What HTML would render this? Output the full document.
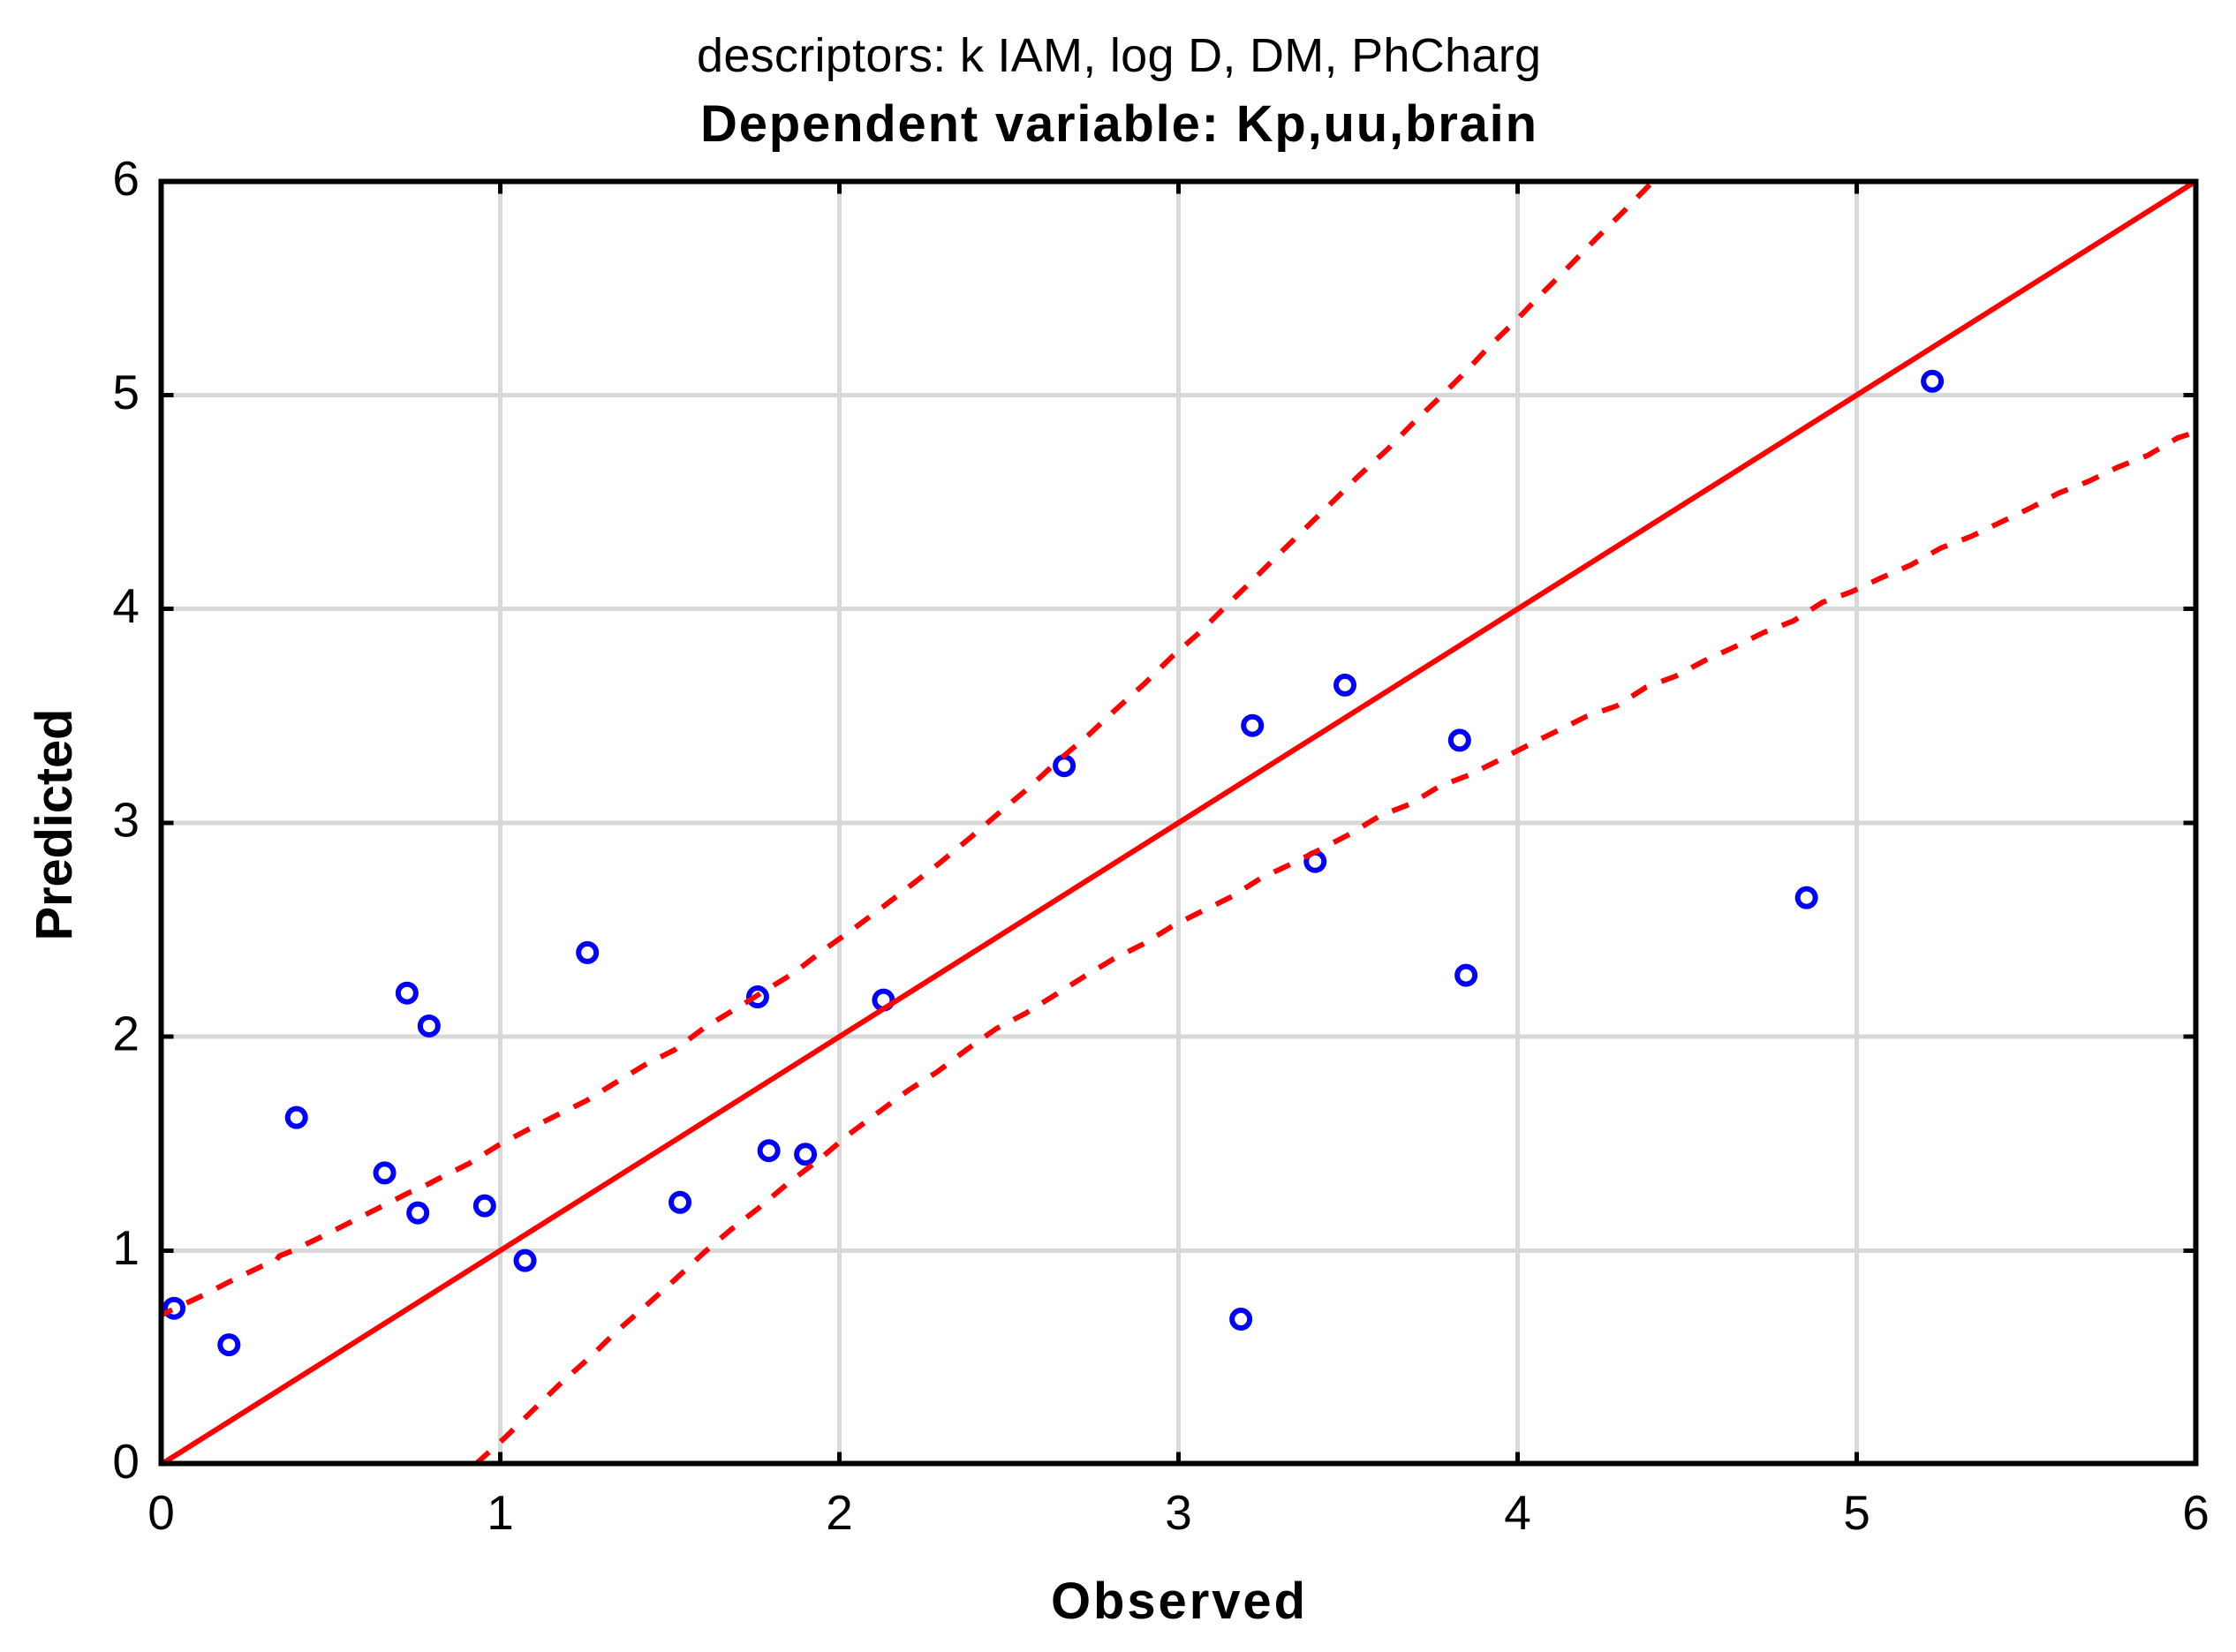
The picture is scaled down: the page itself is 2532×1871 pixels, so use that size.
<!DOCTYPE html>
<html lang="en">
<head>
<meta charset="utf-8">
<title>Observed vs Predicted</title>
<style>
html,body{margin:0;padding:0;background:#fff;}
svg{display:block;}
text{font-family:"Liberation Sans",Arial,sans-serif;fill:#000;}
</style>
</head>
<body>
<svg id="chart" xmlns="http://www.w3.org/2000/svg" width="2532" height="1871" viewBox="0 0 2532 1871">
  <rect x="0" y="0" width="2532" height="1871" fill="#ffffff"/>
  <text x="1267" y="81" font-size="54" text-anchor="middle" textLength="956" lengthAdjust="spacing">descriptors: k IAM, log D, DM, PhCharg</text>
  <text x="1266.5" y="160" font-size="58" font-weight="bold" text-anchor="middle" textLength="947" lengthAdjust="spacing">Dependent variable: Kp,uu,brain</text>
  <g id="grid" shape-rendering="crispEdges"></g>
  <g id="ticks" shape-rendering="crispEdges"></g>
  <g id="points"></g>
  <g id="lines"></g>
  <g id="frame" shape-rendering="crispEdges"></g>
  <g id="labels"></g>
  <text x="1334" y="1833" font-size="58" font-weight="bold" text-anchor="middle" textLength="288" lengthAdjust="spacing">Observed</text>
  <text x="81" y="934" font-size="58" font-weight="bold" text-anchor="middle" textLength="263" lengthAdjust="spacing" transform="rotate(-90 81 934)">Predicted</text>
</svg>
<script>
const xTickValues = [0, 1, 2, 3, 4, 5, 6];
const yTickValues = [0, 1, 2, 3, 4, 5, 6];
const xTickLabels = ['0', '1', '2', '3', '4', '5', '6'];
const yTickLabels = ['0', '1', '2', '3', '4', '5', '6'];

const observed = [0.038, 0.2, 0.399, 0.659, 0.725, 0.757, 0.79, 0.954, 1.073, 1.257, 1.53, 1.759, 1.792, 1.9, 2.13, 2.663, 3.184, 3.218, 3.403, 3.491, 3.829, 3.848, 4.852, 5.223];
const predicted = [0.73, 0.559, 1.622, 1.363, 2.204, 1.176, 2.05, 1.209, 0.953, 2.393, 1.225, 2.186, 1.467, 1.45, 2.171, 3.267, 0.679, 3.455, 2.819, 3.644, 3.386, 2.287, 2.65, 5.065];

const fitX = [0, 6];
const fitY = [0, 6];

const upperX = [0, 0.121, 0.21, 0.296, 0.338, 0.348, 0.386, 0.471, 0.559, 0.645, 0.73, 0.776, 0.819, 0.906, 0.993, 1.079, 1.166, 1.253, 1.342, 1.43, 1.514, 1.602, 1.691, 1.777, 1.864, 1.951, 2.042, 2.126, 2.217, 2.298, 2.387, 2.475, 2.563, 2.647, 2.735, 2.816, 2.9, 2.98, 3.061, 3.15, 3.227, 3.303, 3.379, 3.457, 3.533, 3.618, 3.693, 3.771, 3.848, 3.915, 3.993, 4.067, 4.143, 4.23, 4.316, 4.399];
const upperY = [0.698, 0.789, 0.861, 0.926, 0.95, 0.974, 0.998, 1.063, 1.133, 1.202, 1.27, 1.301, 1.337, 1.405, 1.491, 1.563, 1.632, 1.7, 1.787, 1.871, 1.938, 2.042, 2.127, 2.212, 2.296, 2.402, 2.505, 2.604, 2.715, 2.815, 2.932, 3.052, 3.17, 3.293, 3.411, 3.531, 3.651, 3.776, 3.888, 4.029, 4.147, 4.267, 4.384, 4.505, 4.625, 4.749, 4.871, 4.99, 5.111, 5.226, 5.345, 5.467, 5.588, 5.729, 5.864, 5.999];

const lowerX = [0.928, 1.014, 1.089, 1.178, 1.264, 1.339, 1.426, 1.513, 1.602, 1.678, 1.764, 1.851, 1.938, 2.027, 2.114, 2.203, 2.288, 2.374, 2.463, 2.55, 2.637, 2.723, 2.81, 2.897, 2.984, 3.071, 3.159, 3.244, 3.333, 3.42, 3.507, 3.594, 3.683, 3.77, 3.856, 3.943, 4.03, 4.117, 4.205, 4.293, 4.379, 4.466, 4.551, 4.639, 4.727, 4.813, 4.899, 4.986, 5.074, 5.159, 5.248, 5.337, 5.424, 5.511, 5.596, 5.684, 5.771, 5.858, 5.947, 6];
const lowerY = [0.002, 0.125, 0.242, 0.379, 0.5, 0.616, 0.737, 0.861, 0.992, 1.095, 1.201, 1.318, 1.422, 1.542, 1.645, 1.749, 1.835, 1.938, 2.038, 2.11, 2.196, 2.282, 2.365, 2.434, 2.519, 2.588, 2.657, 2.742, 2.808, 2.877, 2.949, 3.033, 3.088, 3.171, 3.223, 3.291, 3.362, 3.43, 3.499, 3.547, 3.634, 3.686, 3.758, 3.822, 3.891, 3.944, 4.031, 4.081, 4.147, 4.205, 4.285, 4.339, 4.405, 4.471, 4.542, 4.597, 4.664, 4.718, 4.8, 4.827];

const NS = 'http://www.w3.org/2000/svg';
const plotLeft = 182.5, plotRight = 2486.5, plotTop = 205.3, plotBottom = 1658.5;
const domainMin = 0, domainMax = 6;
function sx(v) { return plotLeft + (v - domainMin) / (domainMax - domainMin) * (plotRight - plotLeft); }
function sy(v) { return plotBottom - (v - domainMin) / (domainMax - domainMin) * (plotBottom - plotTop); }
function make(tag, attrs, parent) {
  const el = document.createElementNS(NS, tag);
  for (const k in attrs) el.setAttribute(k, attrs[k]);
  parent.appendChild(el);
  return el;
}
const gridG = document.getElementById('grid');
const ticksG = document.getElementById('ticks');
const pointsG = document.getElementById('points');
const linesG = document.getElementById('lines');
const frameG = document.getElementById('frame');
const labelsG = document.getElementById('labels');
const GRID = '#d8d8d8', AXW = 6, TICK = 14;

xTickValues.forEach(function (v, i) {
  const x = sx(v);
  if (i > 0 && i < xTickValues.length - 1) {
    const g = make('line', {x1: x, x2: x, y1: plotTop, y2: plotBottom, stroke: GRID, 'stroke-width': 5}, gridG);
    
    
    const t1 = make('line', {x1: x, x2: x, y1: plotTop, y2: plotTop + TICK, stroke: '#000', 'stroke-width': 5}, ticksG);
    
    
    const t2 = make('line', {x1: x, x2: x, y1: plotBottom - TICK, y2: plotBottom, stroke: '#000', 'stroke-width': 5}, ticksG);
    
    
  }
  const lab = make('text', {x: x, y: 1732, 'font-size': 55, 'text-anchor': 'middle'}, labelsG);
  lab.textContent = xTickLabels[i];
  
  
});

yTickValues.forEach(function (v, i) {
  const y = sy(v);
  if (i > 0 && i < yTickValues.length - 1) {
    const g = make('line', {x1: plotLeft, x2: plotRight, y1: y, y2: y, stroke: GRID, 'stroke-width': 5}, gridG);
    
    
    const t1 = make('line', {x1: plotLeft, x2: plotLeft + TICK, y1: y, y2: y, stroke: '#000', 'stroke-width': 5}, ticksG);
    
    
    const t2 = make('line', {x1: plotRight - TICK, x2: plotRight, y1: y, y2: y, stroke: '#000', 'stroke-width': 5}, ticksG);
    
    
  }
  const lab = make('text', {x: 158, y: y + 15.5, 'font-size': 55, 'text-anchor': 'end'}, labelsG);
  lab.textContent = yTickLabels[i];
  
  
});

observed.forEach(function (v, i) {
  const c = make('circle', {cx: sx(v), cy: sy(predicted[i]), r: 10, fill: 'none', stroke: '#0000ff', 'stroke-width': 6}, pointsG);
  
  
});

function pathFrom(xs, ys) {
  return xs.map(function (v, i) { return (i ? 'L' : 'M') + sx(v).toFixed(1) + ' ' + sy(ys[i]).toFixed(1); }).join(' ');
}
const fitLine = make('path', {d: pathFrom(fitX, fitY), fill: 'none', stroke: '#ff0000', 'stroke-width': 6}, linesG);


const upperLine = make('path', {d: pathFrom(upperX, upperY), fill: 'none', stroke: '#ff0000', 'stroke-width': 6, 'stroke-dasharray': '20 17.9', 'stroke-dashoffset': 6, 'stroke-linejoin': 'round'}, linesG);


const lowerLine = make('path', {d: pathFrom(lowerX, lowerY), fill: 'none', stroke: '#ff0000', 'stroke-width': 6, 'stroke-dasharray': '20 17.7', 'stroke-linejoin': 'round'}, linesG);



const border = make('rect', {x: plotLeft, y: plotTop, width: plotRight - plotLeft, height: plotBottom - 0.8 - plotTop, fill: 'none', stroke: '#000', 'stroke-width': AXW}, frameG);


</script>
</body>
</html>
